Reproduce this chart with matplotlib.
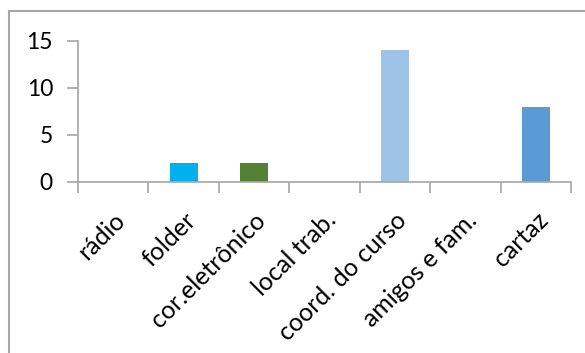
import matplotlib.pyplot as plt
from matplotlib.lines import Line2D
import numpy as np

categories = ["rádio", "folder", "cor.eletrônico", "local trab.",
              "coord. do curso", "amigos e fam.", "cartaz"]
values = [0, 2, 2, 0, 14, 0, 8]
colors = ["#5B9BD5", "#00B0F0", "#548235", "#5B9BD5",
          "#9DC3E6", "#5B9BD5", "#5B9BD5"]
y_ticks = [0, 5, 10, 15]

plt.rcParams["font.family"] = ["Lato", "DejaVu Sans"]
W, H = 585, 353
fig = plt.figure(figsize=(W / 100, H / 100), dpi=100)
ax = fig.add_axes([78 / W, 1 - 182 / H, (571 - 78) / W, (182 - 40.7) / H])

x = np.arange(len(categories))
ax.bar(x, values, width=0.4, color=colors)

ax.set_xlim(-0.5, len(categories) - 0.5)
ax.set_ylim(0, 15)
ax.set_yticks(y_ticks)
ax.set_yticklabels([str(v) for v in y_ticks], fontsize=16.5)

ax.set_xticks(x)
ax.set_xticklabels(categories, rotation=45, ha="right",
                   rotation_mode="anchor", fontsize=18)
ax.tick_params(axis="x", which="major", length=0, pad=19)
ax.set_xticks(np.arange(-0.5, len(categories)), minor=True)
ax.tick_params(axis="x", which="minor", length=8, width=1.2, color="#A6A6A6")
ax.tick_params(axis="y", length=8, width=1.2, color="#A6A6A6", pad=10)

for side in ["top", "right"]:
    ax.spines[side].set_visible(False)
for side in ["left", "bottom"]:
    ax.spines[side].set_color("#A6A6A6")
    ax.spines[side].set_linewidth(1.2)

# outer chart frame (only top and left edges are visible in the crop)
frame = dict(color="#A6A6A6", linewidth=1.5, transform=fig.transFigure)
fig.add_artist(Line2D([9 / W, 1.0], [1 - 11 / H, 1 - 11 / H], **frame))
fig.add_artist(Line2D([9 / W, 9 / W], [0, 1 - 11 / H], **frame))

fig.savefig("out.png", dpi=100)
